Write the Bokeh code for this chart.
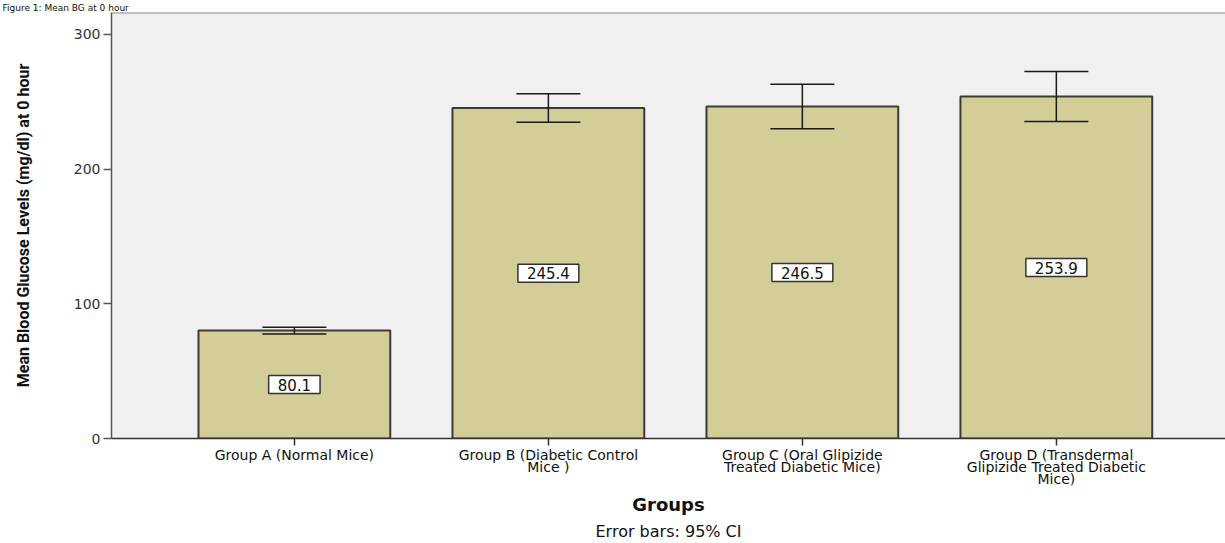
from bokeh.plotting import figure
from bokeh.models import (Range1d, FixedTicker, ColumnDataSource, Whisker, TeeHead,
                          Span, Title)
from bokeh.core.properties import value
from bokeh.embed import file_html
from bokeh.resources import INLINE

# ---- data ----
groups = [
    "Group A (Normal Mice)",
    "Group B (Diabetic Control\nMice )",
    "Group C (Oral Glipizide\nTreated Diabetic Mice)",
    "Group D (Transdermal\nGlipizide Treated Diabetic\nMice)",
]
means = [80.1, 245.4, 246.5, 253.9]
ci_upper = [82.6, 256.0, 263.1, 272.5]
ci_lower = [77.6, 234.8, 229.9, 235.3]
y_ticks = [0, 100, 200, 300]

title_text = "Figure 1: Mean BG at 0 hour"
y_title = "Mean Blood Glucose Levels (mg/dl) at 0 hour"
x_title = "Groups"
note_text = "Error bars: 95% CI"

xs = list(range(len(groups)))
src = ColumnDataSource(dict(
    x=xs,
    top=means,
    upper=ci_upper,
    lower=ci_lower,
    mid=[m / 2 for m in means],
    label=[f"{m:.1f}" for m in means],
))

Y_END = 316.3
p = figure(
    width=1225, height=543,
    x_range=Range1d(-0.72, 3.666), y_range=Range1d(0, Y_END),
    output_backend="svg", toolbar_location=None,
    min_border_left=111, min_border_right=0, min_border_top=11, min_border_bottom=105,
    background_fill_color="#f0f0f0", border_fill_color="white",
    outline_line_color=None,
)
p.xgrid.visible = False
p.ygrid.visible = False

# bars
p.vbar(x="x", top="top", width=0.755, source=src,
       fill_color="#d3ce98", line_color="#3a3a3a", line_width=2)

# error bars
p.add_layout(Whisker(
    base="x", upper="upper", lower="lower", source=src, level="overlay",
    line_color="#1a1a1a", line_width=1.5,
    upper_head=TeeHead(size=64, line_color="#1a1a1a", line_width=1.5),
    lower_head=TeeHead(size=64, line_color="#1a1a1a", line_width=1.5),
))

# value labels
p.text(x="x", y="mid", text="label", source=src,
       text_align="center", text_baseline="middle",
       text_font=value("DejaVu Sans"), text_font_size="15px", text_color="#111111",
       background_fill_color="white", border_line_color="#333333", border_line_width=1.5,
       padding=dict(left=9, right=9, top=3, bottom=3))

# top frame border
p.add_layout(Span(location=Y_END, dimension="width", line_color="#8c8c8c", line_width=2))

# x axis
xa = p.xaxis[0]
xa.ticker = FixedTicker(ticks=xs)
xa.major_label_overrides = {i: g for i, g in zip(xs, groups)}
xa.major_tick_out = 7
xa.major_tick_in = 0
xa.minor_tick_line_color = None
xa.axis_line_color = "#333333"
xa.axis_line_width = 1.5
xa.major_tick_line_color = "#333333"
xa.major_tick_line_width = 1.5
xa.major_label_standoff = 1
xa.major_label_text_font = "DejaVu Sans"
xa.major_label_text_font_size = "14px"
xa.major_label_text_color = "#111111"
xa.major_label_text_line_height = 0.78

# y axis
ya = p.yaxis[0]
ya.ticker = FixedTicker(ticks=y_ticks)
ya.major_tick_out = 8
ya.major_tick_in = 0
ya.minor_tick_line_color = None
ya.axis_line_color = "#555555"
ya.axis_line_width = 1.5
ya.major_tick_line_color = "#555555"
ya.major_tick_line_width = 1.5
ya.major_label_standoff = 3
ya.major_label_text_font = "DejaVu Sans"
ya.major_label_text_font_size = "14px"
ya.major_label_text_color = "#333333"
ya.axis_label = y_title
ya.axis_label_text_font = "Roboto"
ya.axis_label_text_font_style = "bold"
ya.axis_label_text_font_size = "16px"
ya.axis_label_text_color = "#111111"
ya.axis_label_standoff = 38

# top caption (mostly cropped in the reference), x title and note below
p.add_layout(Title(text=title_text, align="left", offset=-109, standoff=0,
                   text_font="DejaVu Sans", text_font_style="normal",
                   text_font_size="9px", text_color="#111111"), "above")
p.add_layout(Title(text=x_title, align="center", offset=-28, standoff=3,
                   text_font="DejaVu Sans", text_font_style="bold",
                   text_font_size="18px", text_color="#111111"), "below")
p.add_layout(Title(text=note_text, align="center", offset=-79, standoff=6,
                   text_font="DejaVu Sans", text_font_style="normal",
                   text_font_size="16px", text_color="#111111"), "below")

open("out.html", "w").write(file_html(p, INLINE))
